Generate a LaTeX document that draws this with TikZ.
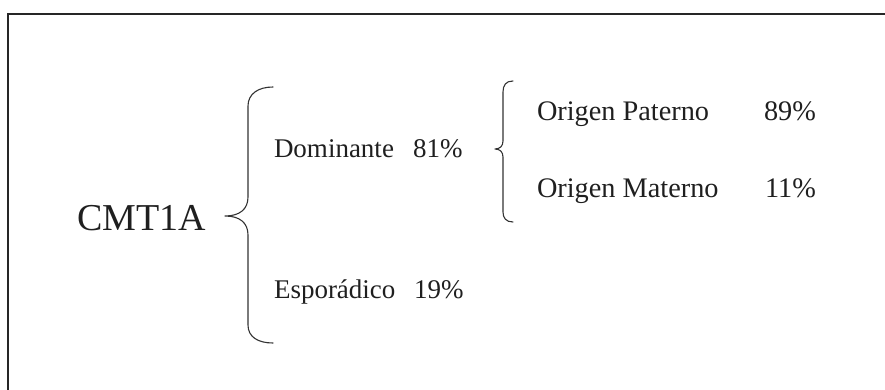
\documentclass[tikz,border=0pt]{standalone}
\usepackage{fontspec}
\setmainfont{Liberation Serif}
\begin{document}
\begin{tikzpicture}[x=1pt,y=-1pt,
  lbl/.style={anchor=base west,inner sep=0pt,outer sep=0pt,text=black!88,font=\fontsize{27}{30}\selectfont},
  lblb/.style={lbl,font=\fontsize{28.3}{31}\selectfont},
  big/.style={anchor=base west,inner sep=0pt,outer sep=0pt,text=black!88,font=\fontsize{38}{42}\selectfont},
  brace/.style={draw=black!80,line width=1.1pt,line cap=round,line join=round},
  frame/.style={draw=black!85,line width=2.2pt}]
\useasboundingbox (0,0) rectangle (885,390);
% frame (only top and left visible)
\coordinate (fbl) at (8,392);
\coordinate (ftl) at (8,14);
\coordinate (ftr) at (887,14);
\draw[frame] (fbl) -- (ftl) -- (ftr);
% texts
\node[big] (cmt) at (77,230) {CMT1A};
\node[lbl] (dom) at (274,158) {Dominante};
\node[lbl] (domp) at (413,158) {81\%};
\node[lbl] (esp) at (274,298) {Esporádico};
\node[lbl] (espp) at (414,298) {19\%};
\node[lblb] (pat) at (537,121) {Origen Paterno};
\node[lblb] (patp) at (764,121) {89\%};
\node[lblb] (mat) at (537,197) {Origen Materno};
\node[lblb] (matp) at (765,197) {11\%};
% big brace
\coordinate (bt) at (273,87);
\coordinate (bm) at (225,216);
\coordinate (bb) at (273,343);
\draw[brace] (bt) .. controls (258,87) and (248,94) .. (248,106) -- (248,197)
  .. controls (248,209) and (240,216) .. (bm)
  .. controls (240,216) and (248,223) .. (248,235) -- (248,325)
  .. controls (248,337) and (258,343) .. (bb);
% small brace
\coordinate (st) at (513,81);
\coordinate (sm) at (495,149);
\coordinate (sb) at (513,222);
\draw[brace] (st) .. controls (506,81) and (503,85) .. (503,92) -- (503,141)
  .. controls (503,146) and (500,149) .. (sm)
  .. controls (500,149) and (503,152) .. (503,157) -- (503,212)
  .. controls (503,218) and (506,222) .. (sb);
\end{tikzpicture}
\end{document}
